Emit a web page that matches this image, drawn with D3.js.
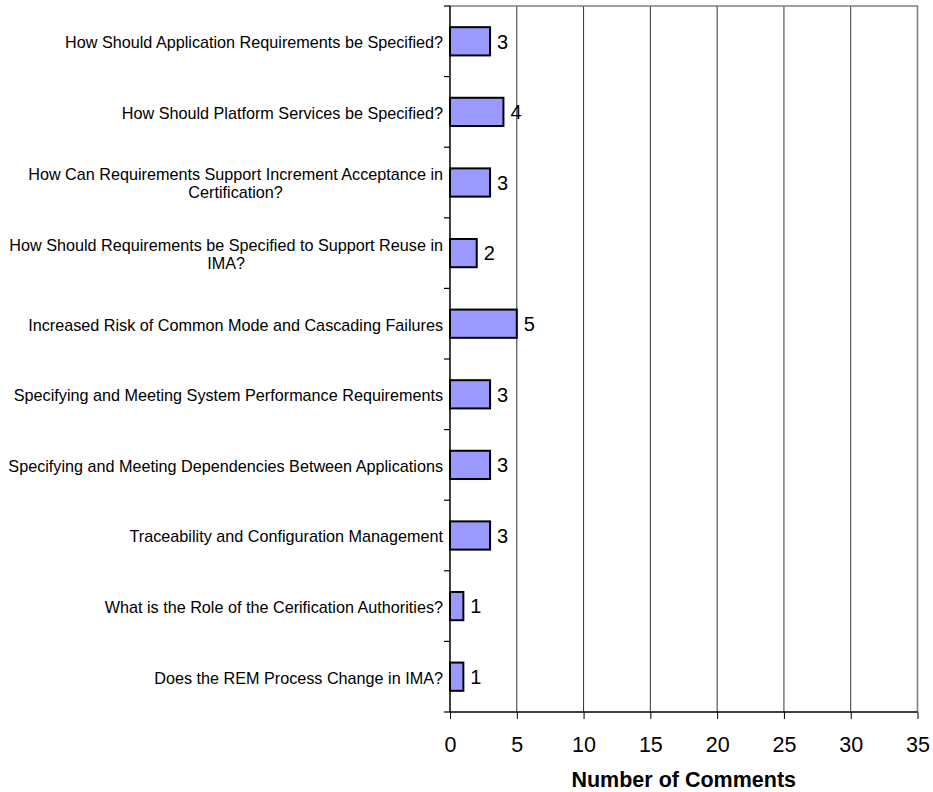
<!DOCTYPE html>
<html>
<head>
<meta charset="utf-8">
<script src="https://cdn.jsdelivr.net/npm/d3@7"></script>
<style>
	body { margin: 0; background: #fff; }
	svg { display: block; font-family: Arial, 'Liberation Sans', sans-serif; }
</style>
</head>
<body>
<div class="chart"></div>
<script>
const categories = [
	'How Should Application Requirements be Specified?',
	'How Should Platform Services be Specified?',
	'How Can Requirements Support Increment Acceptance in Certification?',
	'How Should Requirements be Specified to Support Reuse in IMA?',
	'Increased Risk of Common Mode and Cascading Failures',
	'Specifying and Meeting System Performance Requirements',
	'Specifying and Meeting Dependencies Between Applications',
	'Traceability and Configuration Management',
	'What is the Role of the Cerification Authorities?',
	'Does the REM Process Change in IMA?',
]
const comments = [3, 4, 3, 2, 5, 3, 3, 3, 1, 1]
const xTicks = [0, 5, 10, 15, 20, 25, 30, 35]
const xTitle = 'Number of Comments'

const width = 933
const height = 792
const margin = { top: 6, right: 15.5, bottom: 80, left: 450 }
const labelWrap = 440

const svg = d3.select('.chart').append('svg')
	.attr('width', width)
	.attr('height', height)

const scaleX = d3.scaleLinear()
	.domain([0, 35])
	.range([margin.left, width - margin.right])

const scaleY = d3.scaleBand()
	.domain(categories)
	.range([margin.top, height - margin.bottom])

const plotTop = margin.top
const plotBottom = height - margin.bottom
const band = scaleY.bandwidth()

// vertical gridlines
svg.append('g')
	.selectAll('line')
	.data(xTicks.slice(1, -1))
	.join('line')
	.attr('x1', d => scaleX(d))
	.attr('x2', d => scaleX(d))
	.attr('y1', plotTop)
	.attr('y2', plotBottom)
	.attr('stroke', '#333')
	.attr('stroke-width', 1)

// plot border top + right
svg.append('path')
	.attr('d', `M${scaleX(0)},${plotTop}H${scaleX(35)}V${plotBottom}`)
	.attr('fill', 'none')
	.attr('stroke', '#808080')
	.attr('stroke-width', 1.6)

// bars
svg.append('g')
	.selectAll('rect')
	.data(comments)
	.join('rect')
	.attr('x', scaleX(0))
	.attr('y', (d, i) => scaleY(categories[i]) + band * 0.3)
	.attr('width', d => scaleX(d) - scaleX(0))
	.attr('height', band * 0.4)
	.attr('fill', '#9999ff')
	.attr('stroke', '#000')
	.attr('stroke-width', 2)

// value labels
svg.append('g')
	.selectAll('text')
	.data(comments)
	.join('text')
	.attr('x', d => scaleX(d) + 7)
	.attr('y', (d, i) => scaleY(categories[i]) + band / 2)
	.attr('dy', '0.36em')
	.attr('font-size', 20)
	.text(d => d)

// x axis
const axisBottom = d3.axisBottom(scaleX)
	.tickValues(xTicks)
	.tickSize(7)

const xAxis = svg.append('g')
	.attr('transform', `translate(0, ${plotBottom})`)
	.call(axisBottom)

xAxis.select('.domain').remove()
xAxis.append('line')
	.attr('x1', scaleX(0))
	.attr('x2', scaleX(35))
	.attr('stroke', '#000')
	.attr('stroke-width', 1.5)
xAxis.selectAll('.tick line').attr('stroke', '#000')
xAxis.selectAll('.tick text')
	.attr('y', 40)
	.attr('dy', null)
	.attr('font-size', 21.5)
	.attr('fill', '#000')
xAxis.attr('font-family', null).attr('font-size', null)

// y axis: line plus ticks on band edges
const yAxis = svg.append('g')
yAxis.append('line')
	.attr('x1', scaleX(0))
	.attr('x2', scaleX(0))
	.attr('y1', plotTop)
	.attr('y2', plotBottom)
	.attr('stroke', '#000')
	.attr('stroke-width', 1.5)

const edges = categories.map(c => scaleY(c)).concat([plotBottom])
yAxis.selectAll('.edge')
	.data(edges)
	.join('line')
	.attr('class', 'edge')
	.attr('x1', scaleX(0) - 6)
	.attr('x2', scaleX(0))
	.attr('y1', d => d)
	.attr('y2', d => d)
	.attr('stroke', '#000')
	.attr('stroke-width', 1.2)

// category labels, wrapped like excel: lines centred, block right aligned
const labelRight = scaleX(0) - 7
const lineH = 18.3

categories.forEach((c, i) => {
	const words = c.split(' ')
	const probe = svg.append('text').attr('font-size', 16.2)
	const lines = []
	let cur = []
	words.forEach(w => {
		probe.text(cur.concat([w]).join(' '))
		if (probe.node().getComputedTextLength() > labelWrap && cur.length) {
			lines.push(cur.join(' '))
			cur = [w]
		} else {
			cur.push(w)
		}
	})
	lines.push(cur.join(' '))

	const widths = lines.map(l => {
		probe.text(l)
		return probe.node().getComputedTextLength()
	})
	probe.remove()

	const maxW = d3.max(widths)
	const cx = labelRight - maxW / 2
	const cy = scaleY(c) + band / 2
	const y0 = cy - (lines.length - 1) * lineH / 2 + 1

	svg.append('text')
		.attr('font-size', 16.2)
		.attr('text-anchor', 'middle')
		.selectAll('tspan')
		.data(lines)
		.join('tspan')
		.attr('x', cx)
		.attr('y', (d, j) => y0 + j * lineH)
		.attr('dy', '0.36em')
		.text(d => d)
})

// axis title
svg.append('text')
	.attr('x', (scaleX(0) + scaleX(35)) / 2)
	.attr('y', 787)
	.attr('text-anchor', 'middle')
	.attr('font-size', 21.5)
	.attr('font-weight', 'bold')
	.text(xTitle)
</script>
</body>
</html>
